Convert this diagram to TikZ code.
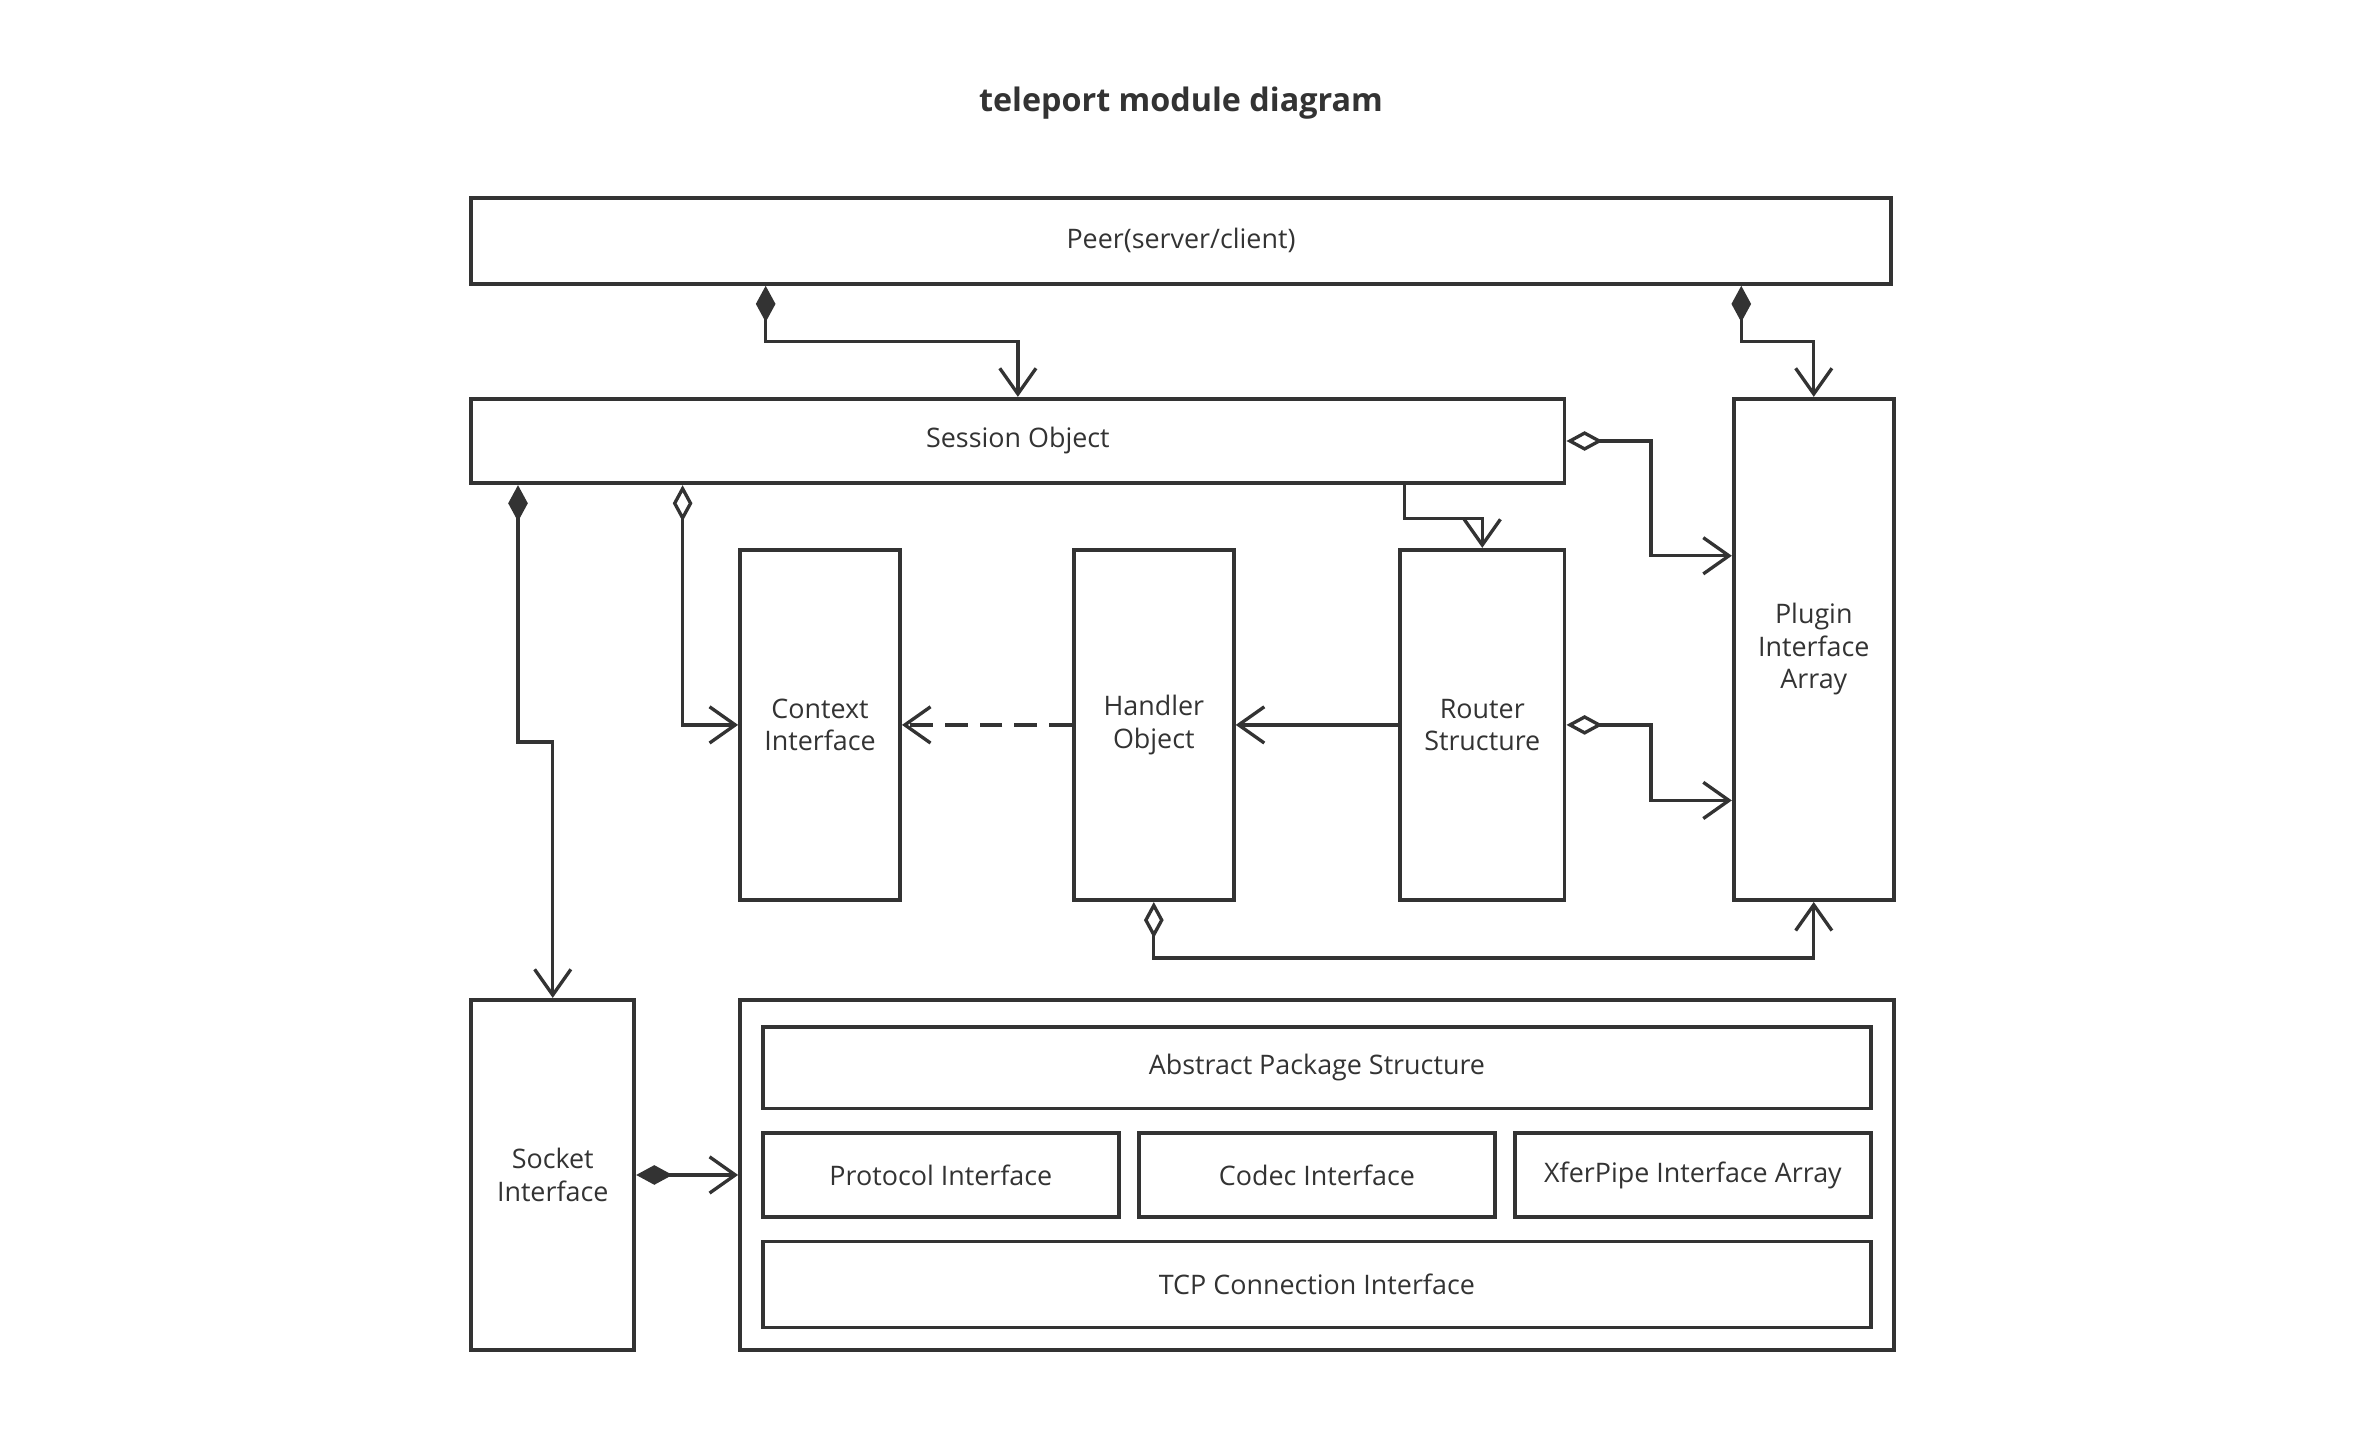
\documentclass[tikz,border=0pt]{standalone}
\usepackage{fontspec}
\setmainfont{Open Sans}
\usepackage{xcolor}
\usepackage{tikz}
\usetikzlibrary{arrows.meta}
\definecolor{ink}{HTML}{333333}

\begin{document}
\begin{tikzpicture}[x=0.5pt,y=-0.5pt,
  box/.style={draw=ink,line width=1.25pt,text=ink,align=center,font=\fontsize{8.9}{10.75}\selectfont,inner sep=0pt},
  link/.style={draw=ink,line width=1.1pt,-{Straight Barb[length=8.5pt,width=12pt]}},
  comp/.style={link,{Diamond[length=12pt,width=6.5pt]}-{Straight Barb[length=8.5pt,width=12pt]}},
  aggr/.style={link,{Diamond[open,length=12pt,width=6.5pt]}-{Straight Barb[length=8.5pt,width=12pt]}}]
\useasboundingbox (0,0) rectangle (1568,955);
\node[text=ink,font=\bfseries\fontsize{10.7}{12}\selectfont] (title) at (782,68) {teleport module diagram};
% upper boxes
\node[box,minimum width=470pt,minimum height=28.5pt] (peer) at (782,159.5) {Peer(server/client)};
\node[box,minimum width=362pt,minimum height=28pt] (session) at (674,292) {Session Object};
\node[box,minimum width=53pt,minimum height=166pt] (plugin) at (1201,430) {Plugin\\Interface\\Array};
\node[box,minimum width=53pt,minimum height=116pt] (context) at (543,480) {Context\\Interface};
\node[box,minimum width=53pt,minimum height=116pt] (handler) at (764,480) {Handler\\Object};
\node[box,minimum width=54.5pt,minimum height=116pt] (router) at (981.5,480) {Router\\Structure};
% lower boxes
\node[box,minimum width=54pt,minimum height=116pt] (socket) at (366,778) {Socket\\Interface};
\node[box,minimum width=382pt,minimum height=116pt] (packet) at (872,778) {};
\node[box,minimum width=367pt,minimum height=27pt] (abstract) at (872,707) {Abstract Package Structure};
\node[box,minimum width=118pt,minimum height=28pt] (protocol) at (623,778) {Protocol Interface};
\node[box,minimum width=118pt,minimum height=28pt] (codec) at (872,778) {Codec Interface};
\node[box,minimum width=118pt,minimum height=28pt] (xferpipe) at (1121,778) {XferPipe Interface Array};
\node[box,minimum width=367pt,minimum height=28.5pt] (tcp) at (872,850.5) {TCP Connection Interface};
% connectors
\draw[comp] ([xshift=-137.5pt]peer.south) -- ++(0,37) -| (session.north);
\draw[comp] ([xshift=185.5pt]peer.south) -- ++(0,37) -| (plugin.north);
\draw[aggr] (session.east) -- ++(56,0) |- ([yshift=31pt]plugin.west);
\draw[link] ([xshift=128pt]session.south) -- ++(0,22) -| (router.north);
\draw[comp] ([xshift=-165.5pt]session.south) -- ++(0,170) -| (socket.north);
\draw[aggr] ([xshift=-111pt]session.south) |- (context.west);
\draw[link,dash pattern=on 7.5pt off 4pt] (handler.west) -- (context.east);
\draw[link] (router.west) -- (handler.east);
\draw[aggr] (router.east) -- ++(56,0) |- ([yshift=-50pt]plugin.west);
\draw[aggr] (handler.south) -- ++(0,37) -| (plugin.south);
\draw[comp] (socket.east) -- (packet.west);
\end{tikzpicture}
\end{document}
